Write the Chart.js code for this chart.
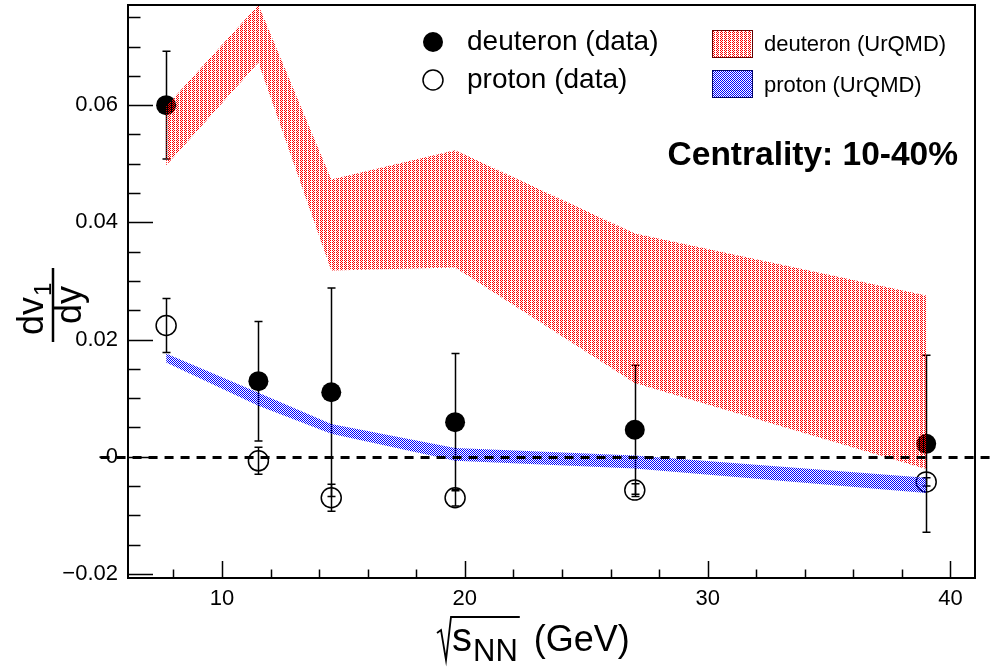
<!DOCTYPE html>
<html><head><meta charset="utf-8">
<script src="https://cdn.jsdelivr.net/npm/chart.js@4/dist/chart.umd.min.js"></script>
<style>html,body{margin:0;padding:0;background:#fff;overflow:hidden}#wrap{width:995px;height:669px}</style>
</head><body><div id="wrap"><canvas id="c" width="995" height="669"></canvas></div>
<script>
// ---- data ----
const energies = [7.7, 11.5, 14.5, 19.6, 27, 39];
const deuteronV1 = [0.0600, 0.0129, 0.0110, 0.0059, 0.0046, 0.0022];
const deuteronErr = [0.0092, 0.0102, 0.0178, 0.0117, 0.0110, 0.0151];
const protonV1 = [0.0224, -0.0007, -0.0070, -0.0070, -0.0057, -0.0043];
const protonErr = [0.0046, 0.0023, 0.0023, 0.0014, 0.0011, 0.0007];
const deuteronUrqmdHigh = [0.0598, 0.0771, 0.0473, 0.0523, 0.0381, 0.0275];
const deuteronUrqmdLow  = [0.0497, 0.0673, 0.0318, 0.0323, 0.0126, -0.0021];
const protonUrqmdHigh = [0.0176, 0.0109, 0.0056, 0.0015, 0.0002, -0.0036];
const protonUrqmdLow  = [0.0161, 0.0087, 0.0039, -0.0007, -0.0020, -0.0062];
const xTickValues = [10, 20, 30, 40];
const xTickLabels = ['10', '20', '30', '40'];
const yTickValues = [-0.02, 0, 0.02, 0.04, 0.06];
const yTickLabels = ['\u22120.02', '-0', '0.02', '0.04', '0.06'];
const legendLabels = ['deuteron (data)', 'proton (data)', 'deuteron (UrQMD)', 'proton (UrQMD)'];
const centralityText = 'Centrality: 10-40%';

const FONT = '"Liberation Sans", Arial, Helvetica, sans-serif';
const canvas = document.getElementById('c');
const ctx0 = canvas.getContext('2d');

function makePattern(r, g, b, stripe) {
  const c = document.createElement('canvas'); c.width = 4; c.height = 4;
  const x = c.getContext('2d');
  const img = x.createImageData(4, 4);
  for (let j = 0; j < 4; j++) for (let i = 0; i < 4; i++) {
    const on = ((i + j) % 2 === 0) && !(stripe && i === 3);
    const k = (j * 4 + i) * 4;
    if (on) { img.data[k] = r; img.data[k+1] = g; img.data[k+2] = b; img.data[k+3] = 255; }
  }
  x.putImageData(img, 0, 0);
  return ctx0.createPattern(c, 'repeat');
}
const redPat = makePattern(255, 0, 0, true);
const bluePat = makePattern(0, 0, 255, false);

const pts = (ys) => energies.map((e, i) => ({x: e, y: ys[i]}));

const extras = {
  id: 'extras',
  beforeDatasetsDraw(chart) {
    const c = chart.ctx, xs = chart.scales.x, ys = chart.scales.y;
    c.save();
    c.strokeStyle = '#000'; c.lineWidth = 1.5;
    const sets = [[deuteronV1, deuteronErr], [protonV1, protonErr]];
    sets.forEach(([v, e]) => {
      energies.forEach((en, i) => {
        const px = Math.round(xs.getPixelForValue(en)) + 0.5;
        const y1 = ys.getPixelForValue(v[i] + e[i]);
        const y2 = ys.getPixelForValue(v[i] - e[i]);
        c.beginPath();
        c.moveTo(px, y1); c.lineTo(px, y2);
        c.moveTo(px - 4, y1); c.lineTo(px + 4, y1);
        c.moveTo(px - 4, y2); c.lineTo(px + 4, y2);
        c.stroke();
      });
    });
    c.restore();
  },
  afterDatasetsDraw(chart) {
    const c = chart.ctx, xs = chart.scales.x, ys = chart.scales.y;
    c.save();
    c.strokeStyle = '#000'; c.lineWidth = 3; c.setLineDash([9, 7]);
    const y0 = Math.round(ys.getPixelForValue(0)) + 0.5;
    c.beginPath(); c.moveTo(xs.getPixelForValue(5), y0); c.lineTo(xs.getPixelForValue(42), y0); c.stroke();
    c.setLineDash([]);
    c.restore();
  },
  afterDraw(chart) {
    const c = chart.ctx, a = chart.chartArea, xs = chart.scales.x, ys = chart.scales.y;
    c.save();
    c.strokeStyle = '#000'; c.lineWidth = 2;
    c.strokeRect(a.left, a.top, a.right - a.left, a.bottom - a.top);
    c.lineWidth = 1.5;
    c.beginPath();
    for (let k = -4; k <= 15; k++) {
      const v = k * 0.005;
      if (v < ys.min || v > ys.max) continue;
      const py = Math.round(ys.getPixelForValue(v)) + 0.5;
      const len = (k % 4 === 0) ? 25 : 12.5;
      c.moveTo(a.left, py); c.lineTo(a.left + len, py);
    }
    for (let v = 6; v <= 42; v += 2) {
      if (v < xs.min || v > xs.max) continue;
      const px = Math.round(xs.getPixelForValue(v)) + 0.5;
      const len = (v % 10 === 0) ? 17 : 8.5;
      c.moveTo(px, a.bottom); c.lineTo(px, a.bottom - len);
    }
    c.stroke();

    // legend
    c.fillStyle = '#000'; c.textBaseline = 'middle'; c.textAlign = 'left';
    c.beginPath(); c.arc(433, 42, 10, 0, Math.PI * 2); c.fill();
    c.beginPath(); c.lineWidth = 1.5; c.arc(433, 80, 10, 0, Math.PI * 2); c.stroke();
    c.font = '28px ' + FONT;
    c.fillText(legendLabels[0], 467, 42);
    c.fillText(legendLabels[1], 467, 80);
    c.fillStyle = redPat; c.fillRect(712, 30, 40, 27);
    c.fillStyle = bluePat; c.fillRect(712, 70, 40, 27);
    c.lineWidth = 1; c.strokeStyle = '#600';
    c.strokeRect(712.5, 30.5, 40, 27);
    c.strokeStyle = '#006';
    c.strokeRect(712.5, 70.5, 40, 27);
    c.fillStyle = '#000';
    c.font = '22px ' + FONT;
    c.fillText(legendLabels[2], 764, 45);
    c.fillText(legendLabels[3], 764, 86);
    c.font = 'bold 33.5px ' + FONT; c.textAlign = 'right';
    c.fillText(centralityText, 958, 156);

    // y title: dv1/dy
    c.save();
    c.translate(53, 305); c.rotate(-Math.PI / 2);
    c.textBaseline = 'alphabetic';
    c.font = '36px ' + FONT;
    c.lineWidth = 2.5; c.strokeStyle = '#000';
    c.beginPath(); c.moveTo(-37, 0); c.lineTo(37, 0); c.stroke();
    c.textAlign = 'left';
    c.fillText('dv', -30, -10);
    const wdv = c.measureText('dv').width;
    c.font = '24px ' + FONT;
    c.fillText('1', -30 + wdv + 1, -2);
    c.font = '36px ' + FONT;
    c.textAlign = 'center';
    c.fillText('dy', 0, 28);
    c.restore();

    // x title: sqrt(s_NN) (GeV)
    c.textAlign = 'left'; c.textBaseline = 'alphabetic';
    const bx = 437, by = 651;
    c.font = '40px ' + FONT;
    const ws = c.measureText('s').width;
    c.font = '31px ' + FONT;
    const wnn = c.measureText('NN').width;
    const sx = bx + 15;
    c.font = '40px ' + FONT;
    c.fillText('s', sx, by);
    c.font = '31px ' + FONT;
    c.fillText('NN', sx + ws + 1, by + 10);
    const endBar = sx + ws + wnn + 3;
    c.lineWidth = 1.8; c.strokeStyle = '#000';
    c.beginPath();
    c.moveTo(bx, by - 18); c.lineTo(bx + 4, by - 21); c.lineTo(bx + 9, by + 9);
    c.lineTo(bx + 14, by - 34); c.lineTo(endBar, by - 34);
    c.stroke();
    c.font = '36px ' + FONT;
    c.fillText('(GeV)', endBar + 14, by);
    c.restore();
  }
};

const padFix = (s) => { s.paddingTop = 0; s.paddingBottom = 0; s.paddingLeft = 0; s.paddingRight = 0; };

new Chart(canvas, {
  type: 'line',
  data: {
    datasets: [
      { label: legendLabels[2], data: pts(deuteronUrqmdHigh), fill: '+1', backgroundColor: redPat,
        borderWidth: 0, borderColor: 'rgba(0,0,0,0)', pointRadius: 0, tension: 0, order: 0 },
      { label: 'dlow', data: pts(deuteronUrqmdLow), fill: false,
        borderWidth: 0, borderColor: 'rgba(0,0,0,0)', pointRadius: 0, tension: 0, order: 0 },
      { label: legendLabels[3], data: pts(protonUrqmdHigh), fill: '+1', backgroundColor: bluePat,
        borderWidth: 0, borderColor: 'rgba(0,0,0,0)', pointRadius: 0, tension: 0, order: 0 },
      { label: 'plow', data: pts(protonUrqmdLow), fill: false,
        borderWidth: 0, borderColor: 'rgba(0,0,0,0)', pointRadius: 0, tension: 0, order: 0 },
      { label: legendLabels[0], data: pts(deuteronV1), showLine: false, pointStyle: 'circle',
        pointRadius: 10, pointHoverRadius: 10, backgroundColor: '#000', borderColor: '#000', borderWidth: 0, order: 1 },
      { label: legendLabels[1], data: pts(protonV1), showLine: false, pointStyle: 'circle',
        pointRadius: 10, pointHoverRadius: 10, backgroundColor: 'rgba(0,0,0,0)', borderColor: '#000', borderWidth: 1.5, order: 1 }
    ]
  },
  options: {
    responsive: false, animation: false, devicePixelRatio: 1, events: [],
    layout: { autoPadding: false, padding: { left: 0, right: 20, top: 5, bottom: 0 } },
    plugins: { legend: { display: false }, tooltip: { enabled: false } },
    scales: {
      x: {
        type: 'linear', min: 6.13, max: 41.01,
        grid: { display: false, drawTicks: false }, border: { display: false },
        afterBuildTicks: (s) => { s.ticks = xTickValues.map(v => ({ value: v })); },
        afterFit: (s) => { s.height = 91; padFix(s); },
        ticks: { padding: 8, color: '#000', font: { family: FONT, size: 22 }, maxRotation: 0,
          callback: (v, i) => xTickLabels[i] }
      },
      y: {
        type: 'linear', min: -0.0207, max: 0.0771,
        grid: { display: false, drawTicks: false }, border: { display: false },
        afterBuildTicks: (s) => { s.ticks = yTickValues.map(v => ({ value: v })); },
        afterFit: (s) => { s.width = 128; padFix(s); },
        ticks: { padding: 10, color: '#000', font: { family: FONT, size: 22 },
          callback: (v, i) => yTickLabels[i] }
      }
    }
  },
  plugins: [extras]
});
</script></body></html>
